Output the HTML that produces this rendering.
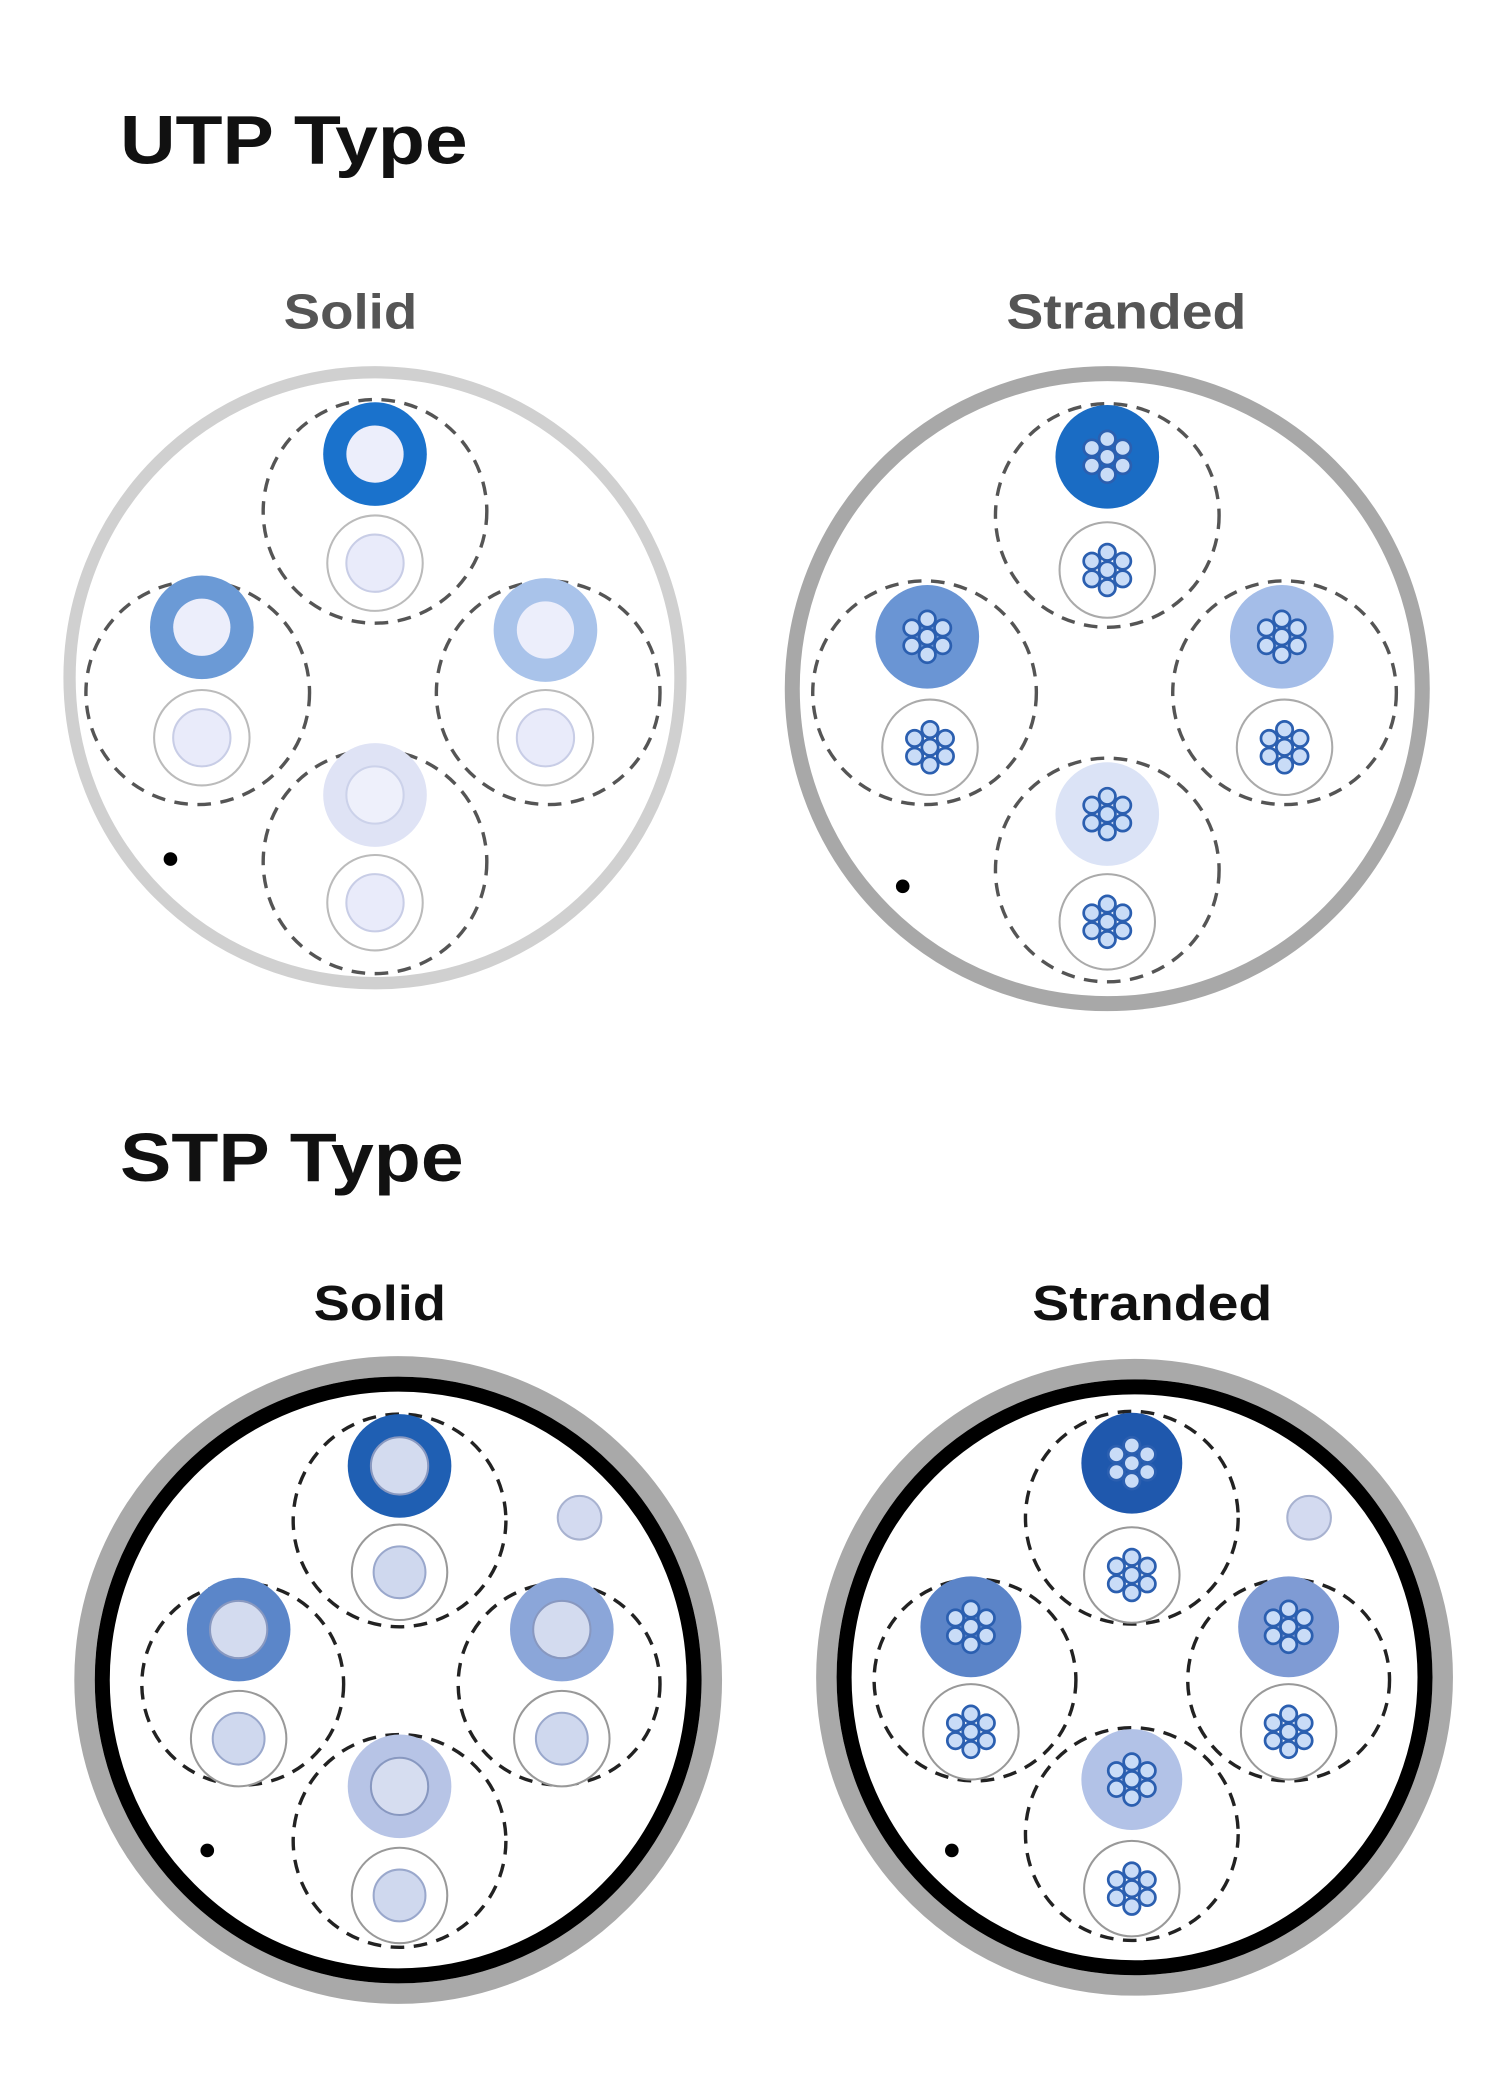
<!DOCTYPE html>
<html><head><meta charset="utf-8"><style>
html,body{margin:0;padding:0;background:#fff;}
svg{display:block;}
</style></head><body>
<svg width="1500" height="2100" viewBox="0 0 1100 1540" preserveAspectRatio="none" xmlns="http://www.w3.org/2000/svg">
<defs>
<g id="st">
<circle cx="0" cy="0" r="6" fill="#c9dcf7" stroke="#2b5fb0" stroke-width="2"/>
<circle cx="0" cy="-13" r="6" fill="#c9dcf7" stroke="#2b5fb0" stroke-width="2"/>
<circle cx="0" cy="13" r="6" fill="#c9dcf7" stroke="#2b5fb0" stroke-width="2"/>
<circle cx="-11.3" cy="-6.5" r="6" fill="#c9dcf7" stroke="#2b5fb0" stroke-width="2"/>
<circle cx="11.3" cy="-6.5" r="6" fill="#c9dcf7" stroke="#2b5fb0" stroke-width="2"/>
<circle cx="-11.3" cy="6.5" r="6" fill="#c9dcf7" stroke="#2b5fb0" stroke-width="2"/>
<circle cx="11.3" cy="6.5" r="6" fill="#c9dcf7" stroke="#2b5fb0" stroke-width="2"/>
</g>
</defs>
<g font-family="Liberation Sans, sans-serif">
<text x="88" y="120" font-size="50" font-weight="bold" fill="#111" textLength="255" lengthAdjust="spacingAndGlyphs">UTP Type</text>
<text x="208" y="241" font-size="36" font-weight="bold" fill="#555" textLength="98" lengthAdjust="spacingAndGlyphs">Solid</text>
<text x="738" y="241" font-size="36" font-weight="bold" fill="#555" textLength="176" lengthAdjust="spacingAndGlyphs">Stranded</text>
<text x="88" y="866" font-size="50" font-weight="bold" fill="#111" textLength="252" lengthAdjust="spacingAndGlyphs">STP Type</text>
<text x="230" y="968" font-size="36" font-weight="bold" fill="#111" textLength="97" lengthAdjust="spacingAndGlyphs">Solid</text>
<text x="757" y="968" font-size="36" font-weight="bold" fill="#111" textLength="176" lengthAdjust="spacingAndGlyphs">Stranded</text>
</g>

<!-- UTP Solid -->
<circle cx="275" cy="497" r="224" fill="#fff" stroke="#d0d0d0" stroke-width="9"/>
<g fill="none" stroke="#555" stroke-width="2.5" stroke-dasharray="10 7">
<circle cx="275" cy="375" r="82"/><circle cx="145" cy="508" r="82"/><circle cx="402" cy="508" r="82"/><circle cx="275" cy="632" r="82"/>
</g>
<g stroke="#bbb" stroke-width="1.5" fill="#fff">
<circle cx="275" cy="413" r="35"/><circle cx="148" cy="541" r="35"/><circle cx="400" cy="541" r="35"/><circle cx="275" cy="662" r="35"/>
</g>
<g fill="#e9ebfa" stroke="#c8cde6" stroke-width="1.5">
<circle cx="275" cy="413" r="21"/><circle cx="148" cy="541" r="21"/><circle cx="400" cy="541" r="21"/><circle cx="275" cy="662" r="21"/>
</g>
<circle cx="275" cy="333" r="38" fill="#1a72cc"/><circle cx="275" cy="333" r="21" fill="#eceefb"/>
<circle cx="148" cy="460" r="38" fill="#6b9ad6"/><circle cx="148" cy="460" r="21" fill="#eceefb"/>
<circle cx="400" cy="462" r="38" fill="#a9c3ea"/><circle cx="400" cy="462" r="21" fill="#eceefb"/>
<circle cx="275" cy="583" r="38" fill="#dfe3f5"/><circle cx="275" cy="583" r="21" fill="#eef0fb" stroke="#ccd2ea" stroke-width="1.5"/>
<circle cx="125" cy="630" r="5" fill="#000"/>

<!-- UTP Stranded -->
<circle cx="812" cy="505" r="231" fill="#fff" stroke="#a8a8a8" stroke-width="11"/>
<g fill="none" stroke="#555" stroke-width="2.5" stroke-dasharray="10 7">
<circle cx="812" cy="378" r="82"/><circle cx="678" cy="508" r="82"/><circle cx="942" cy="508" r="82"/><circle cx="812" cy="638" r="82"/>
</g>
<g stroke="#aaa" stroke-width="1.5" fill="#fff">
<circle cx="812" cy="418" r="35"/><circle cx="682" cy="548" r="35"/><circle cx="942" cy="548" r="35"/><circle cx="812" cy="676" r="35"/>
</g>
<circle cx="812" cy="335" r="38" fill="#1a6cc4"/>
<circle cx="680" cy="467" r="38" fill="#6a95d4"/>
<circle cx="940" cy="467" r="38" fill="#a4bde8"/>
<circle cx="812" cy="597" r="38" fill="#dbe3f6"/>
<use href="#st" x="812" y="335"/><use href="#st" x="680" y="467"/><use href="#st" x="940" y="467"/><use href="#st" x="812" y="597"/>
<use href="#st" x="812" y="418"/><use href="#st" x="682" y="548"/><use href="#st" x="942" y="548"/><use href="#st" x="812" y="676"/>
<circle cx="662" cy="650" r="5" fill="#000"/>

<!-- STP Solid -->
<circle cx="292" cy="1232" r="230" fill="#fff" stroke="#a9a9a9" stroke-width="15"/>
<circle cx="292" cy="1232" r="217" fill="none" stroke="#000" stroke-width="11"/>
<g fill="none" stroke="#222" stroke-width="2.5" stroke-dasharray="10 7">
<circle cx="293" cy="1115" r="78"/><circle cx="178" cy="1235" r="74"/><circle cx="410" cy="1235" r="74"/><circle cx="293" cy="1350" r="78"/>
</g>
<g stroke="#999" stroke-width="1.5" fill="#fff">
<circle cx="293" cy="1153" r="35"/><circle cx="175" cy="1275" r="35"/><circle cx="412" cy="1275" r="35"/><circle cx="293" cy="1390" r="35"/>
</g>
<g fill="#cfd8ee" stroke="#9aa8cc" stroke-width="1.5">
<circle cx="293" cy="1153" r="19"/><circle cx="175" cy="1275" r="19"/><circle cx="412" cy="1275" r="19"/><circle cx="293" cy="1390" r="19"/>
</g>
<circle cx="293" cy="1075" r="38" fill="#1f5fb3"/><circle cx="293" cy="1075" r="21" fill="#d3dbef" stroke="#8898c0" stroke-width="1.5"/>
<circle cx="175" cy="1195" r="38" fill="#5b86c9"/><circle cx="175" cy="1195" r="21" fill="#d3dbef" stroke="#8898c0" stroke-width="1.5"/>
<circle cx="412" cy="1195" r="38" fill="#8ba6d9"/><circle cx="412" cy="1195" r="21" fill="#d3dbef" stroke="#8898c0" stroke-width="1.5"/>
<circle cx="293" cy="1310" r="38" fill="#b7c4e6"/><circle cx="293" cy="1310" r="21" fill="#d6ddf0" stroke="#8898c0" stroke-width="1.5"/>
<circle cx="425" cy="1113" r="16" fill="#d3daf0" stroke="#a8b2d0" stroke-width="1.5"/>
<circle cx="152" cy="1357" r="5" fill="#000"/>

<!-- STP Stranded -->
<circle cx="832" cy="1230" r="226" fill="#fff" stroke="#a9a9a9" stroke-width="15"/>
<circle cx="832" cy="1230" r="213" fill="none" stroke="#000" stroke-width="11"/>
<g fill="none" stroke="#222" stroke-width="2.5" stroke-dasharray="10 7">
<circle cx="830" cy="1113" r="78"/><circle cx="715" cy="1232" r="74"/><circle cx="945" cy="1232" r="74"/><circle cx="830" cy="1345" r="78"/>
</g>
<g stroke="#999" stroke-width="1.5" fill="#fff">
<circle cx="830" cy="1155" r="35"/><circle cx="712" cy="1270" r="35"/><circle cx="945" cy="1270" r="35"/><circle cx="830" cy="1385" r="35"/>
</g>
<circle cx="830" cy="1073" r="37" fill="#1f58ad"/>
<circle cx="712" cy="1193" r="37" fill="#5b84c8"/>
<circle cx="945" cy="1193" r="37" fill="#7f9bd4"/>
<circle cx="830" cy="1305" r="37" fill="#b2c2e7"/>
<use href="#st" x="830" y="1073"/><use href="#st" x="712" y="1193"/><use href="#st" x="945" y="1193"/><use href="#st" x="830" y="1305"/>
<use href="#st" x="830" y="1155"/><use href="#st" x="712" y="1270"/><use href="#st" x="945" y="1270"/><use href="#st" x="830" y="1385"/>
<circle cx="960" cy="1113" r="16" fill="#d3daf0" stroke="#a8b2d0" stroke-width="1.5"/>
<circle cx="698" cy="1357" r="5" fill="#000"/>
</svg>
</body></html>
